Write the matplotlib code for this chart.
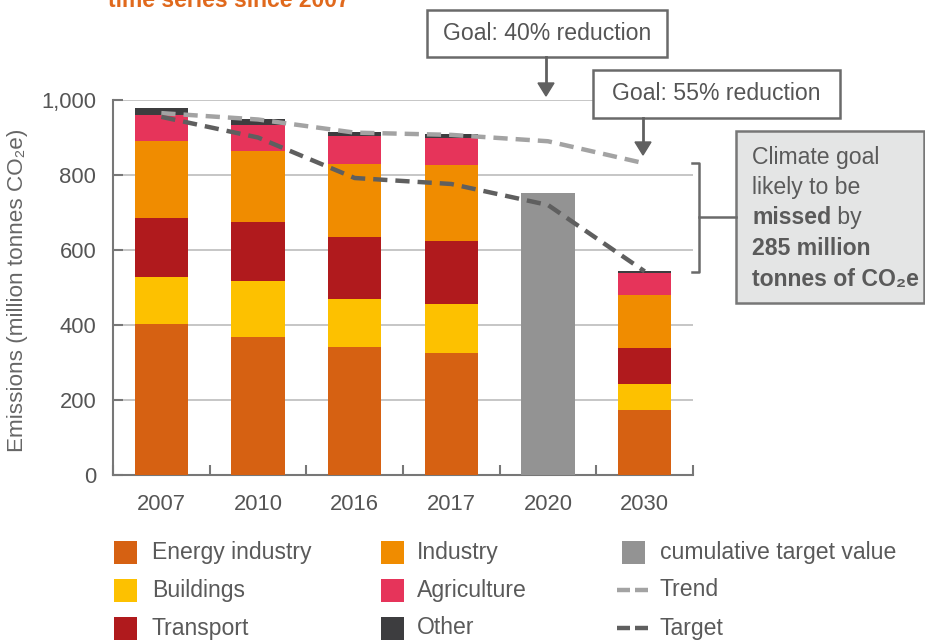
import numpy as np
import matplotlib
matplotlib.use("Agg")
import matplotlib.pyplot as plt
from matplotlib.patches import Rectangle
from matplotlib.lines import Line2D

plt.rcParams['font.family'] = ['Liberation Sans', 'DejaVu Sans']

years = ["2007", "2010", "2016", "2017", "2020", "2030"]
energy = [403, 368, 341, 325, np.nan, 173]
buildings = [125, 149, 128, 131, np.nan, 70]
transport = [157, 158, 166, 168, np.nan, 96]
industry = [206, 189, 194, 203, np.nan, 141]
agriculture = [69, 69, 76, 72, np.nan, 59]
other = [19, 16, 10, 10, np.nan, 5]
cumulative = [np.nan, np.nan, np.nan, np.nan, 752, np.nan]
trend = [965, 948, 913, 907, 890, 831]
target = [955, 900, 792, 776, 720, 543]

sector_names = ["Energy industry", "Buildings", "Transport", "Industry", "Agriculture", "Other"]
sector_colors = ["#d66112", "#fdc100", "#b01a1d", "#f08c00", "#e6345a", "#3d3d3f"]
sectors = [energy, buildings, transport, industry, agriculture, other]

yticks = [0, 200, 400, 600, 800, 1000]
ytick_labels = ["0", "200", "400", "600", "800", "1,000"]

W, H = 925, 642
fig = plt.figure(figsize=(W / 100, H / 100), dpi=100)
ax = fig.add_axes([113 / W, 1 - 475 / H, 580 / W, 375 / H])

def fx(px):
    return px / W

def fy(py):
    return 1 - py / H

FS = 16.6
TXT = "#5a5a5a"

x = np.arange(len(years))
bw = 0.55
bottom = np.zeros(len(years))
for vals, col in zip(sectors, sector_colors):
    v = np.array(vals, dtype=float)
    ax.bar(x, v, bw, bottom=bottom, color=col, zorder=3, linewidth=0)
    bottom = bottom + np.nan_to_num(v)
ax.bar(x, cumulative, bw, color="#939393", zorder=3, linewidth=0)

ax.plot(x, trend, color="#a3a3a3", lw=3.2, dashes=(3.2, 1.8), zorder=4)
ax.plot(x, target, color="#5f5f5f", lw=3.2, dashes=(3.2, 1.8), zorder=4)

ax.set_xlim(-0.5, len(years) - 0.5)
ax.set_ylim(0, 1000)
ax.set_yticks(yticks)
ax.set_yticklabels(ytick_labels)
ax.set_xticks(x)
ax.set_xticklabels(years)
ax.set_xticks(np.arange(-0.5, len(years)), minor=True)
ax.tick_params(axis='x', which='major', length=0, pad=14, labelsize=15.8, labelcolor="#555555")
ax.tick_params(axis='x', which='minor', length=7, width=1.5, direction='in', color="#777777")
ax.tick_params(axis='y', length=7, width=1.5, direction='in', color="#777777", pad=12,
               labelsize=15.8, labelcolor="#555555")
ax.grid(axis='y', color="#c6c6c6", lw=1.4, zorder=0)
for s in ["top", "right"]:
    ax.spines[s].set_visible(False)
for s in ["left", "bottom"]:
    ax.spines[s].set_color("#777777")
    ax.spines[s].set_linewidth(1.5)

fig.text(fx(18), fy(290), "Emissions (million tonnes CO\u2082e)", rotation=90,
         ha='center', va='center', fontsize=16.2, color="#666666")

# cut-off title (cut at the top edge as in the reference)
fig.text(fx(108), fy(7), "time series since 2007", ha='left', va='baseline',
         fontsize=16.5, fontweight='bold', color="#e0691d")

# goal boxes
def goal_box(x0, y0, x1, y1, label, ax_x, tip_y):
    fig.add_artist(Rectangle((fx(x0), fy(y1)), fx(x1) - fx(x0), fy(y0) - fy(y1),
                             transform=fig.transFigure, facecolor="white",
                             edgecolor="#6a6a6a", lw=1.8))
    fig.text((fx(x0) + fx(x1)) / 2, (fy(y0) + fy(y1)) / 2, label, ha='center',
             va='center', fontsize=FS, color="#555555")
    fig.add_artist(Line2D([fx(ax_x), fx(ax_x)], [fy(y1), fy(tip_y - 12)],
                          transform=fig.transFigure, color="#606060", lw=2))
    fig.add_artist(plt.Polygon([[fx(ax_x - 8), fy(tip_y - 13)], [fx(ax_x + 8), fy(tip_y - 13)],
                                [fx(ax_x), fy(tip_y)]], closed=True,
                               transform=fig.transFigure, color="#606060"))

goal_box(427, 10, 667, 57, "Goal: 40% reduction", 546, 96)
goal_box(593, 70, 840, 118, "Goal: 55% reduction", 643, 155)

# bracket
bc = "#6a6a6a"
fig.add_artist(Line2D([fx(692), fx(699), fx(699), fx(692)], [fy(163), fy(163), fy(272), fy(272)],
                      transform=fig.transFigure, color=bc, lw=1.8))
fig.add_artist(Line2D([fx(699), fx(736)], [fy(217), fy(217)],
                      transform=fig.transFigure, color=bc, lw=1.8))

# climate goal box
fig.add_artist(Rectangle((fx(736), fy(303)), fx(924) - fx(736), fy(131) - fy(303),
                         transform=fig.transFigure, facecolor="#e4e5e5",
                         edgecolor="#777777", lw=1.8))
tx = fx(752)
lines_y = [158, 188, 218, 249, 280]
fig.text(tx, fy(lines_y[0]), "Climate goal", ha='left', va='baseline', fontsize=FS, color=TXT,
         transform=fig.transFigure) if False else None
def bline(yc, s, weight='normal'):
    return fig.text(tx, fy(yc + 6), s, ha='left', va='baseline', fontsize=FS,
                    fontweight=weight, color=TXT)
bline(lines_y[0], "Climate goal")
bline(lines_y[1], "likely to be")
t_m = bline(lines_y[2], "missed", 'bold')
bline(lines_y[3], "285 million", 'bold')
bline(lines_y[4], "tonnes of CO\u2082e", 'bold')
fig.canvas.draw()
ext = t_m.get_window_extent(renderer=fig.canvas.get_renderer())
fig.text(ext.x1 / W, fy(lines_y[2] + 6), " by", ha='left', va='baseline', fontsize=FS, color=TXT)

# legend
leg_names = ["Energy industry", "Industry", "cumulative target value",
             "Buildings", "Agriculture", "Trend",
             "Transport", "Other", "Target"]
leg_kinds = ["patch", "patch", "patch", "patch", "patch", "line", "patch", "patch", "line"]
leg_colors = ["#d66112", "#f08c00", "#939393", "#fdc100", "#e6345a", "#a3a3a3",
              "#b01a1d", "#3d3d3f", "#5f5f5f"]
col_sym_x = [114, 381, 622]
col_txt_x = [152, 417, 660]
row_y = [552, 590, 628]
for i, (name, kind, col) in enumerate(zip(leg_names, leg_kinds, leg_colors)):
    r, c = divmod(i, 3)
    cy = row_y[r]
    sx = col_sym_x[c]
    if kind == "patch":
        fig.add_artist(Rectangle((fx(sx), fy(cy + 11.5)), fx(23), 23 / H,
                                 transform=fig.transFigure, facecolor=col, lw=0))
    else:
        for a, b in [(sx - 5, sx + 8), (sx + 13, sx + 26)]:
            fig.add_artist(Line2D([fx(a), fx(b)], [fy(cy), fy(cy)],
                                  transform=fig.transFigure, color=col, lw=3.2,
                                  solid_capstyle='butt'))
    fig.text(fx(col_txt_x[c]), fy(cy), name, ha='left', va='center', fontsize=FS,
             color=TXT)

fig.savefig("out.png", dpi=100)
